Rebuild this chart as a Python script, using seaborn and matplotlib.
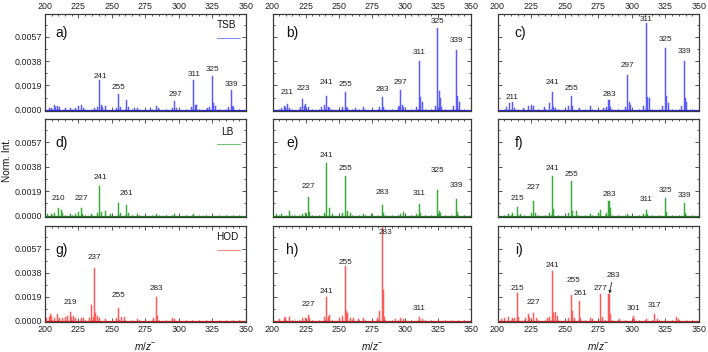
import numpy as np
import pandas as pd
import matplotlib
matplotlib.use("Agg")
import matplotlib.pyplot as plt
import seaborn as sns
from matplotlib.ticker import MultipleLocator, FixedLocator, FormatStrFormatter

# ---------------- data (m/z, normalised intensity) ----------------
a_mz = [203, 205, 207, 208, 209, 211, 215, 219, 223, 225, 227, 229, 237, 239, 241, 242, 243, 245,
        253, 255, 256, 261, 262, 267, 269, 279, 283, 285, 295, 297, 298, 309, 311, 312, 313, 321,
        323, 325, 326, 327, 337, 339, 340, 341]
a_int = [0.00012, 0.00015, 0.0004, 0.00025, 0.0003, 0.0002, 0.0001, 0.0001, 0.00015, 0.0003, 0.0004,
         0.00015, 0.00015, 0.0002, 0.00235, 0.0004, 0.0002, 0.0003, 0.00015, 0.00123, 0.0002, 0.00078,
         0.0002, 0.0001, 0.00015, 0.0001, 0.0003, 0.0001, 0.00015, 0.00065, 0.00015, 0.0002, 0.00235,
         0.0004, 0.0004, 0.0001, 0.0002, 0.00266, 0.0005, 0.0003, 0.0002, 0.00157, 0.0003, 0.0002]
a_lab = [241, 255, 297, 311, 325, 339]

b_mz = [207, 209, 210, 211, 213, 221, 223, 224, 225, 227, 237, 239, 241, 242, 243, 253, 255, 256,
        257, 263, 269, 281, 283, 284, 295, 296, 297, 298, 299, 309, 311, 312, 313, 323, 325, 326,
        327, 328, 337, 339, 340, 341]
b_int = [0.0001, 0.0003, 0.0002, 0.00047, 0.0001, 0.0002, 0.00084, 0.0003, 0.00045, 0.0002, 0.0002,
         0.0004, 0.00104, 0.0002, 0.00015, 0.0002, 0.00141, 0.0002, 0.0001, 0.0001, 0.0002, 0.0002,
         0.00097, 0.0002, 0.0002, 0.0003, 0.00157, 0.0004, 0.0002, 0.0002, 0.00384, 0.001, 0.0006,
         0.0003, 0.00637, 0.0015, 0.0009, 0.0002, 0.0003, 0.0047, 0.0011, 0.0006]
b_lab = [211, 223, 241, 255, 283, 297, 311, 325, 339]

c_mz = [207, 209, 211, 213, 219, 223, 225, 227, 235, 239, 241, 242, 243, 253, 255, 256, 261, 269,
        279, 281, 283, 284, 295, 297, 298, 299, 309, 311, 312, 313, 323, 325, 326, 327, 337, 339,
        340, 341]
c_int = [0.0002, 0.0005, 0.0006, 0.0001, 0.0001, 0.0003, 0.0004, 0.0003, 0.0002, 0.0005, 0.00136,
         0.0002, 0.0001, 0.0003, 0.0011, 0.0003, 0.0001, 0.0003, 0.0001, 0.0002, 0.00073, 0.0002,
         0.0002, 0.00274, 0.0006, 0.0004, 0.0003, 0.0068, 0.001, 0.0009, 0.0003, 0.0048, 0.0011,
         0.0005, 0.0003, 0.0038, 0.0009, 0.0006]
c_lab = [211, 241, 255, 283, 297, 311, 325, 339]

d_mz = [202, 205, 207, 210, 212, 213, 219, 223, 225, 227, 228, 235, 239, 241, 242, 245, 249, 255,
        256, 261, 262, 269, 283, 297, 311]
d_int = [0.0001, 0.0001, 0.0002, 0.00058, 0.00043, 0.0002, 0.0001, 0.0001, 0.00025, 0.00056, 0.0001,
         0.0001, 0.0002, 0.0023, 0.0003, 0.00038, 0.0001, 0.00097, 0.0002, 0.00081, 0.0002, 0.0001,
         0.0001, 0.0001, 0.0001]
d_lab = [210, 227, 241, 261]

e_mz = [203, 207, 213, 217, 223, 225, 227, 228, 239, 241, 243, 245, 253, 255, 257, 259, 269, 275,
        283, 284, 297, 299, 309, 311, 312, 325, 326, 327, 339, 340]
e_int = [0.0001, 0.0001, 0.0004, 0.0001, 0.0001, 0.0002, 0.00145, 0.0003, 0.0002, 0.0041, 0.0006,
         0.0001, 0.0002, 0.0031, 0.0004, 0.0002, 0.0001, 0.0001, 0.0008, 0.0002, 0.0001, 0.0003,
         0.0001, 0.0009, 0.0002, 0.00196, 0.0004, 0.0002, 0.00132, 0.0003]
e_lab = [227, 241, 255, 283, 311, 325, 339]

f_mz = [208, 211, 215, 217, 225, 227, 228, 239, 241, 242, 253, 255, 256, 259, 269, 275, 277, 281,
        283, 284, 297, 309, 311, 312, 325, 326, 339, 340]
f_int = [0.0001, 0.0002, 0.00064, 0.0001, 0.0002, 0.00115, 0.0002, 0.0002, 0.0031, 0.0005, 0.0002,
         0.0027, 0.0004, 0.0004, 0.0001, 0.0002, 0.00046, 0.0002, 0.00115, 0.0006, 0.0001, 0.0001,
         0.00046, 0.0001, 0.00135, 0.0003, 0.001, 0.0002]
f_lab = [215, 227, 241, 255, 283, 311, 325, 339]

g_mz = [201, 203, 204, 205, 207, 209, 211, 213, 215, 217, 219, 220, 221, 223, 227, 229, 233, 235,
        236, 237, 238, 239, 241, 245, 253, 255, 257, 259, 269, 281, 283, 284, 295, 297]
g_int = [0.0002, 0.0003, 0.0005, 0.0004, 0.0002, 0.00057, 0.0002, 0.0002, 0.0003, 0.0004, 0.0007,
         0.0003, 0.0004, 0.0002, 0.0002, 0.0002, 0.0002, 0.00122, 0.0003, 0.0042, 0.0006, 0.0004,
         0.0002, 0.0001, 0.0002, 0.001, 0.0003, 0.0003, 0.0001, 0.0002, 0.00187, 0.0004, 0.0002, 0.0001]
g_lab = [219, 237, 255, 283]

h_mz = [205, 209, 210, 213, 217, 223, 225, 227, 228, 239, 241, 242, 243, 251, 253, 255, 256, 257,
        259, 261, 265, 269, 279, 281, 283, 284, 285, 293, 297, 299, 311, 313]
h_int = [0.0001, 0.0002, 0.0003, 0.0003, 0.0001, 0.0002, 0.0002, 0.00047, 0.0002, 0.0003, 0.0019,
         0.0003, 0.00047, 0.0002, 0.00035, 0.0043, 0.0008, 0.00065, 0.0002, 0.0002, 0.0001, 0.0002,
         0.0002, 0.00078, 0.0078, 0.0024, 0.0003, 0.0001, 0.0002, 0.0001, 0.0003, 0.0001]
h_lab = [227, 241, 255, 283, 311]

i_mz = [203, 205, 208, 211, 213, 215, 216, 221, 223, 224, 227, 229, 237, 239, 241, 242, 243, 245,
        253, 255, 256, 257, 261, 262, 269, 271, 277, 278, 283, 284, 291, 301, 302, 311, 317, 319,
        333, 335]
i_int = [0.0001, 0.0002, 0.0003, 0.0002, 0.0002, 0.0022, 0.0003, 0.0002, 0.0005, 0.0003, 0.00065,
         0.0002, 0.0002, 0.0003, 0.0039, 0.0006, 0.0007, 0.0004, 0.0002, 0.002, 0.0008, 0.0002,
         0.0016, 0.0002, 0.0002, 0.0001, 0.0021, 0.0003, 0.0021, 0.0005, 0.0001, 0.00034, 0.0001,
         0.0001, 0.00052, 0.0001, 0.0003, 0.0001]
i_lab = [215, 227, 241, 255, 261, 277, 283, 301, 317]

media = ["TSB", "LB", "HOD"]
y_ticks = [0.0000, 0.0019, 0.0038, 0.0057]
x_ticks = [200, 225, 250, 275, 300, 325, 350]

# ---------------- layout / styling (not data) ----------------
label_bottom = {
    "a": [0.0023, 0.0015, 0.00091, 0.00248, 0.0029, 0.00167],
    "b": [0.00104, 0.00136, 0.00183, 0.00167, 0.0013, 0.00183, 0.0042, 0.00666, 0.00514],
    "c": [0.00065, 0.00183, 0.00136, 0.00091, 0.0032, 0.0068, 0.0052, 0.0043],
    "d": [0.0011, 0.0011, 0.0027, 0.00147],
    "e": [0.00196, 0.0044, 0.0034, 0.00152, 0.00147, 0.0032, 0.0021],
    "f": [0.0011, 0.0019, 0.0034, 0.0029, 0.00135, 0.00097, 0.00168, 0.00127],
    "g": [0.0012, 0.0047, 0.00176, 0.0023],
    "h": [0.00104, 0.002, 0.0043, 0.0067, 0.00073],
    "i": [0.0023, 0.00117, 0.0041, 0.0029, 0.0019, 0.0023, 0.0033, 0.00073, 0.0009],
}
label_dx = {("h", 283): 2.5, ("i", 255): 1.4, ("i", 261): 0.6, ("i", 283): 3.0}

sns.set_theme(style="ticks")
plt.rcParams["font.family"] = ["Liberation Sans", "DejaVu Sans"]
plt.rcParams["mathtext.fontset"] = "custom"
plt.rcParams["mathtext.it"] = "Liberation Sans:italic"
plt.rcParams["mathtext.rm"] = "Liberation Sans"

W, H = 708, 352
fig = plt.figure(figsize=(W / 100, H / 100), dpi=100)
cols = [(45, 246), (272.5, 471), (497.5, 699)]
rows = [(14, 111), (119, 217), (226, 322)]
row_color = ["#5a5aff", "#3aaa3a", "#ff5a5a"]
base_color = ["#2a2ad0", "#1f7a1f", "#c02020"]
spine_c = "#3a3a3a"

panels = [["a", "b", "c"], ["d", "e", "f"], ["g", "h", "i"]]
data = {
    "a": (a_mz, a_int, a_lab), "b": (b_mz, b_int, b_lab), "c": (c_mz, c_int, c_lab),
    "d": (d_mz, d_int, d_lab), "e": (e_mz, e_int, e_lab), "f": (f_mz, f_int, f_lab),
    "g": (g_mz, g_int, g_lab), "h": (h_mz, h_int, h_lab), "i": (i_mz, i_int, i_lab),
}
letter_x = [0.05, 0.07, 0.085]
letter_y = [0.80, 0.76, 0.75]
tick_fs = 6.4
peak_fs = 5.9

for r in range(3):
    for c in range(3):
        key = panels[r][c]
        mz, inten, labs = data[key]
        x0, x1 = cols[c]
        y0, y1 = rows[r]
        ax = fig.add_axes([x0 / W, 1 - y1 / H, (x1 - x0) / W, (y1 - y0) / H])
        df = pd.DataFrame({"mz": mz, "intensity": inten})
        sns.barplot(data=df, x="mz", y="intensity", native_scale=True, width=0.75,
                    color=row_color[r], saturation=1, linewidth=0.35,
                    edgecolor=row_color[r], errorbar=None, ax=ax)
        ax.axhline(0, color=base_color[r], lw=0.9, zorder=3)
        ax.set_xlim(200, 350)
        ax.set_ylim(-0.0001, 0.0075)
        ax.set_xlabel("")
        ax.set_ylabel("")
        ax.xaxis.set_major_locator(FixedLocator(x_ticks))
        ax.xaxis.set_minor_locator(MultipleLocator(5))
        ax.yaxis.set_major_locator(FixedLocator(y_ticks))
        ax.yaxis.set_minor_locator(MultipleLocator(0.00095))
        ax.yaxis.set_major_formatter(FormatStrFormatter("%.4f"))
        for s in ax.spines.values():
            s.set_visible(True)
            s.set_color(spine_c)
            s.set_linewidth(0.9)
        ax.tick_params(which="both", direction="in", top=True, right=True,
                       colors=spine_c, labelcolor="#222222", labelsize=tick_fs, width=0.6)
        ax.tick_params(which="major", length=3)
        ax.tick_params(which="minor", length=1.6)
        ax.tick_params(axis="x", labeltop=(r == 0), labelbottom=(r == 2), pad=2.2)
        ax.tick_params(axis="y", labelleft=(c == 0), labelright=False, pad=2.2)

        # peak labels
        for lab, yb in zip(labs, label_bottom[key]):
            dx = label_dx.get((key, lab), 0)
            if key == "i" and lab == 283:
                ax.annotate(str(lab), xy=(283.3, 0.00215), xytext=(lab + dx, yb),
                            ha="center", va="bottom", fontsize=peak_fs, color="#222222",
                            arrowprops=dict(arrowstyle="-|>", lw=0.6, color="#222222",
                                            mutation_scale=4, shrinkA=0, shrinkB=0))
            else:
                ax.text(lab + dx, yb, str(lab), ha="center", va="bottom",
                        fontsize=peak_fs, color="#222222")

        ax.text(letter_x[c], letter_y[r], f"{key})", transform=ax.transAxes,
                fontsize=10, va="center", ha="left", color="#111111")

        if c == 0:
            ax.text(0.905, 0.885 if r != 1 else 0.87, media[r], transform=ax.transAxes,
                    fontsize=7.2, ha="center", va="center", color="#111111")
            ax.plot([0.856, 0.97], [0.75, 0.75], transform=ax.transAxes,
                    color=row_color[r], lw=0.8, alpha=0.7)

fig.text(7.5 / W, 1 - 160 / H, "Norm. Int.", rotation=90, ha="center", va="center",
         fontsize=7.2, color="#111111")
for (x0, x1) in cols:
    fig.text((x0 + x1) / 2 / W, 1 - 346 / H, r"$m/z^{-}$", ha="center", va="center",
             fontsize=7.2, color="#111111")

fig.savefig("out.png", dpi=100)
